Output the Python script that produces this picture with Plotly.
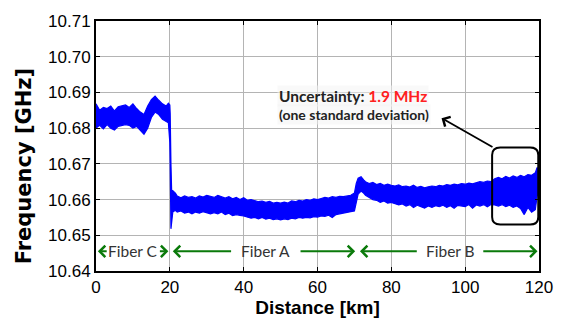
import plotly.graph_objects as go

# Distance [km]
distance = [0, 1, 2, 3, 4, 5, 6, 7, 8, 9, 10, 11, 12, 13, 14, 15, 16, 17, 18, 19, 19.6,
            20.0, 20.1, 20.3, 20.5, 20.8, 21.5,
            22, 23, 24, 25, 26, 27, 28, 29, 30, 31, 32, 33, 34, 35, 36, 37, 38, 39, 40,
            41, 42, 43, 44, 45, 46, 47, 48, 49, 50, 51, 52, 53, 54, 55, 56, 57, 58, 59, 60,
            61, 62, 63, 64, 65, 66, 67, 68, 69, 70, 70.5, 71, 71.8, 72.5,
            73, 74, 75, 76, 77, 78, 79, 80, 81, 82, 83, 84, 85, 86, 87, 88, 89, 90,
            91, 92, 93, 94, 95, 96, 97, 98, 99, 100, 101, 102, 103, 104, 105, 106, 107, 108,
            109, 110, 111, 112, 113, 114, 115, 116, 117, 118, 119, 119.5, 120]

# Upper envelope of the measured frequency band [GHz]
freq_upper = [10.6868, 10.6850, 10.6858, 10.6855, 10.6862, 10.6848, 10.6860, 10.6862, 10.6865, 10.6858,
              10.6868, 10.6855, 10.6845, 10.6838, 10.6862, 10.6880, 10.6890, 10.6878, 10.6868, 10.6862, 10.6870,
              10.6865, 10.6840, 10.6700, 10.6620, 10.6625, 10.6618,
              10.6610, 10.6605, 10.6610, 10.6606, 10.6608, 10.6604, 10.6610, 10.6607, 10.6612, 10.6608,
              10.6606, 10.6612, 10.6608, 10.6604, 10.6608, 10.6602, 10.6606, 10.6600, 10.6605,
              10.6598, 10.6600, 10.6596, 10.6594, 10.6596, 10.6592, 10.6595, 10.6590, 10.6592, 10.6590,
              10.6593, 10.6590, 10.6596, 10.6594, 10.6598, 10.6596, 10.6600, 10.6598, 10.6602, 10.6600,
              10.6603, 10.6606, 10.6604, 10.6608, 10.6606, 10.6609, 10.6608, 10.6610, 10.6612, 10.6618,
              10.6645, 10.6660, 10.6664, 10.6655,
              10.6650, 10.6645, 10.6648, 10.6642, 10.6645, 10.6640, 10.6643, 10.6640, 10.6638, 10.6641,
              10.6636, 10.6638, 10.6635, 10.6640, 10.6634, 10.6637, 10.6633, 10.6636,
              10.6638, 10.6636, 10.6640, 10.6638, 10.6642, 10.6640, 10.6643, 10.6641, 10.6645, 10.6643,
              10.6646, 10.6644, 10.6648, 10.6650, 10.6648, 10.6652, 10.6650, 10.6658,
              10.6662, 10.6658, 10.6665, 10.6660, 10.6666, 10.6662, 10.6668, 10.6664, 10.6670, 10.6668,
              10.6675, 10.6690, 10.6680]

# Lower envelope of the measured frequency band [GHz]
freq_lower = [10.6800, 10.6808, 10.6798, 10.6810, 10.6800, 10.6795, 10.6805, 10.6808, 10.6810, 10.6808,
              10.6800, 10.6805, 10.6795, 10.6783, 10.6800, 10.6830, 10.6845, 10.6838, 10.6825, 10.6818, 10.6815,
              10.6760, 10.6700, 10.6518, 10.6525, 10.6565, 10.6570,
              10.6565, 10.6568, 10.6562, 10.6565, 10.6560, 10.6565, 10.6562, 10.6566, 10.6564, 10.6560,
              10.6563, 10.6560, 10.6565, 10.6558, 10.6562, 10.6555, 10.6558, 10.6556, 10.6554,
              10.6552, 10.6548, 10.6550, 10.6546, 10.6550, 10.6545, 10.6548, 10.6544, 10.6546, 10.6543,
              10.6546, 10.6544, 10.6548, 10.6546, 10.6550, 10.6548, 10.6550, 10.6549, 10.6552, 10.6551,
              10.6554, 10.6553, 10.6556, 10.6550, 10.6558, 10.6560, 10.6562, 10.6564, 10.6566, 10.6568,
              10.6590, 10.6615, 10.6624, 10.6618,
              10.6612, 10.6605, 10.6600, 10.6598, 10.6592, 10.6596, 10.6590, 10.6592, 10.6588, 10.6585,
              10.6588, 10.6582, 10.6586, 10.6578, 10.6584, 10.6580, 10.6576, 10.6582,
              10.6578, 10.6583, 10.6580, 10.6584, 10.6578, 10.6583, 10.6576, 10.6584, 10.6582, 10.6580,
              10.6586, 10.6576, 10.6585, 10.6582, 10.6586, 10.6580, 10.6586, 10.6585,
              10.6582, 10.6586, 10.6580, 10.6584, 10.6578, 10.6582, 10.6575, 10.6558, 10.6578, 10.6565,
              10.6572, 10.6610, 10.6615]

x_ticks = [0, 20, 40, 60, 80, 100, 120]
y_ticks = [10.64, 10.65, 10.66, 10.67, 10.68, 10.69, 10.70, 10.71]

# Fiber sections
fiber_names = ["Fiber C", "Fiber A", "Fiber B"]
fiber_starts = [0.5, 20.8, 71.5]
fiber_ends = [19.6, 70.2, 119.6]
fiber_label_centres = [10.1, 46.0, 95.9]
fiber_label_halfwidth = [6.8, 9.0, 8.6]
fiber_row = 10.6455

fig = go.Figure()

fig.add_trace(go.Scatter(
    x=distance + distance[::-1],
    y=freq_upper + freq_lower[::-1],
    fill="toself", fillcolor="#0000ff",
    line=dict(color="#0000ff", width=1.2),
    mode="lines", hoverinfo="skip", showlegend=False,
))

green = "#0a7a0a"
annotations = []
for name, s, e, c, hw in zip(fiber_names, fiber_starts, fiber_ends, fiber_label_centres, fiber_label_halfwidth):
    annotations.append(dict(x=c, y=fiber_row, xref="x", yref="y", text=name, showarrow=False,
                            font=dict(family="Lato", size=15.5, color="#333333")))
    annotations.append(dict(x=s, y=fiber_row, ax=c - hw, ay=fiber_row, xref="x", yref="y",
                            axref="x", ayref="y", text="", showarrow=True, arrowhead=4,
                            arrowsize=1.1, arrowwidth=2, arrowcolor=green))
    annotations.append(dict(x=e, y=fiber_row, ax=c + hw, ay=fiber_row, xref="x", yref="y",
                            axref="x", ayref="y", text="", showarrow=True, arrowhead=4,
                            arrowsize=1.1, arrowwidth=2, arrowcolor=green))

# Uncertainty callout
annotations.append(dict(x=93.6, y=10.6828, ax=107.8, ay=10.6745, xref="x", yref="y",
                        axref="x", ayref="y", text="", showarrow=True, arrowhead=4,
                        arrowsize=1.2, arrowwidth=1.8, arrowcolor="black"))
annotations.append(dict(x=49.0, y=10.6889, xref="x", yref="y", xanchor="left",
                        text="<b>Uncertainty: <span style='color:#ff2020'>1.9 MHz</span></b>",
                        showarrow=False, font=dict(family="Lato", size=15.5, color="#222222"),
                        bgcolor="rgba(244,244,244,0.5)"))
annotations.append(dict(x=49.0, y=10.6838, xref="x", yref="y", xanchor="left",
                        text="<b>(one standard deviation)</b>", showarrow=False,
                        font=dict(family="Lato", size=14, color="#222222"),
                        bgcolor="rgba(244,244,244,0.5)"))

# y-axis title placed as a rotated annotation
annotations.append(dict(x=-0.163, y=0.418, xref="paper", yref="paper", textangle=-90,
                        xanchor="center", yanchor="middle",
                        text="<b>Frequency [GHz]</b>", showarrow=False,
                        font=dict(family="DejaVu Sans", size=21, color="black")))

# Rounded rectangle around the last section
x0, x1, y0, y1 = 107.3, 119.8, 10.6530, 10.6746
rx, ry = 2.2, 0.0021
path = (f"M {x0+rx},{y0} L {x1-rx},{y0} Q {x1},{y0} {x1},{y0+ry} L {x1},{y1-ry} "
        f"Q {x1},{y1} {x1-rx},{y1} L {x0+rx},{y1} Q {x0},{y1} {x0},{y1-ry} "
        f"L {x0},{y0+ry} Q {x0},{y0} {x0+rx},{y0} Z")
fig.add_shape(type="path", path=path, xref="x", yref="y", line=dict(color="black", width=2))

axis_common = dict(showline=True, linecolor="black", linewidth=2, mirror="ticks",
                   ticks="inside", ticklen=4, tickcolor="black",
                   showgrid=True, gridcolor="#b4b4b4", gridwidth=1, zeroline=False,
                   tickfont=dict(family="Liberation Sans", size=17, color="black"))

fig.update_layout(
    width=567, height=327,
    margin=dict(l=96, r=28, t=13, b=51),
    paper_bgcolor="white", plot_bgcolor="white",
    annotations=annotations,
    xaxis=dict(range=[0, 120], tickvals=x_ticks, ticktext=[str(v) for v in x_ticks],
               title=dict(text="<b>Distance [km]</b>", standoff=4,
                          font=dict(family="Liberation Sans", size=19, color="black")),
               **axis_common),
    yaxis=dict(range=[10.64, 10.71], tickvals=y_ticks, ticktext=[f"{v:.2f}" for v in y_ticks],
               **axis_common),
)

fig.write_html("out.html")
